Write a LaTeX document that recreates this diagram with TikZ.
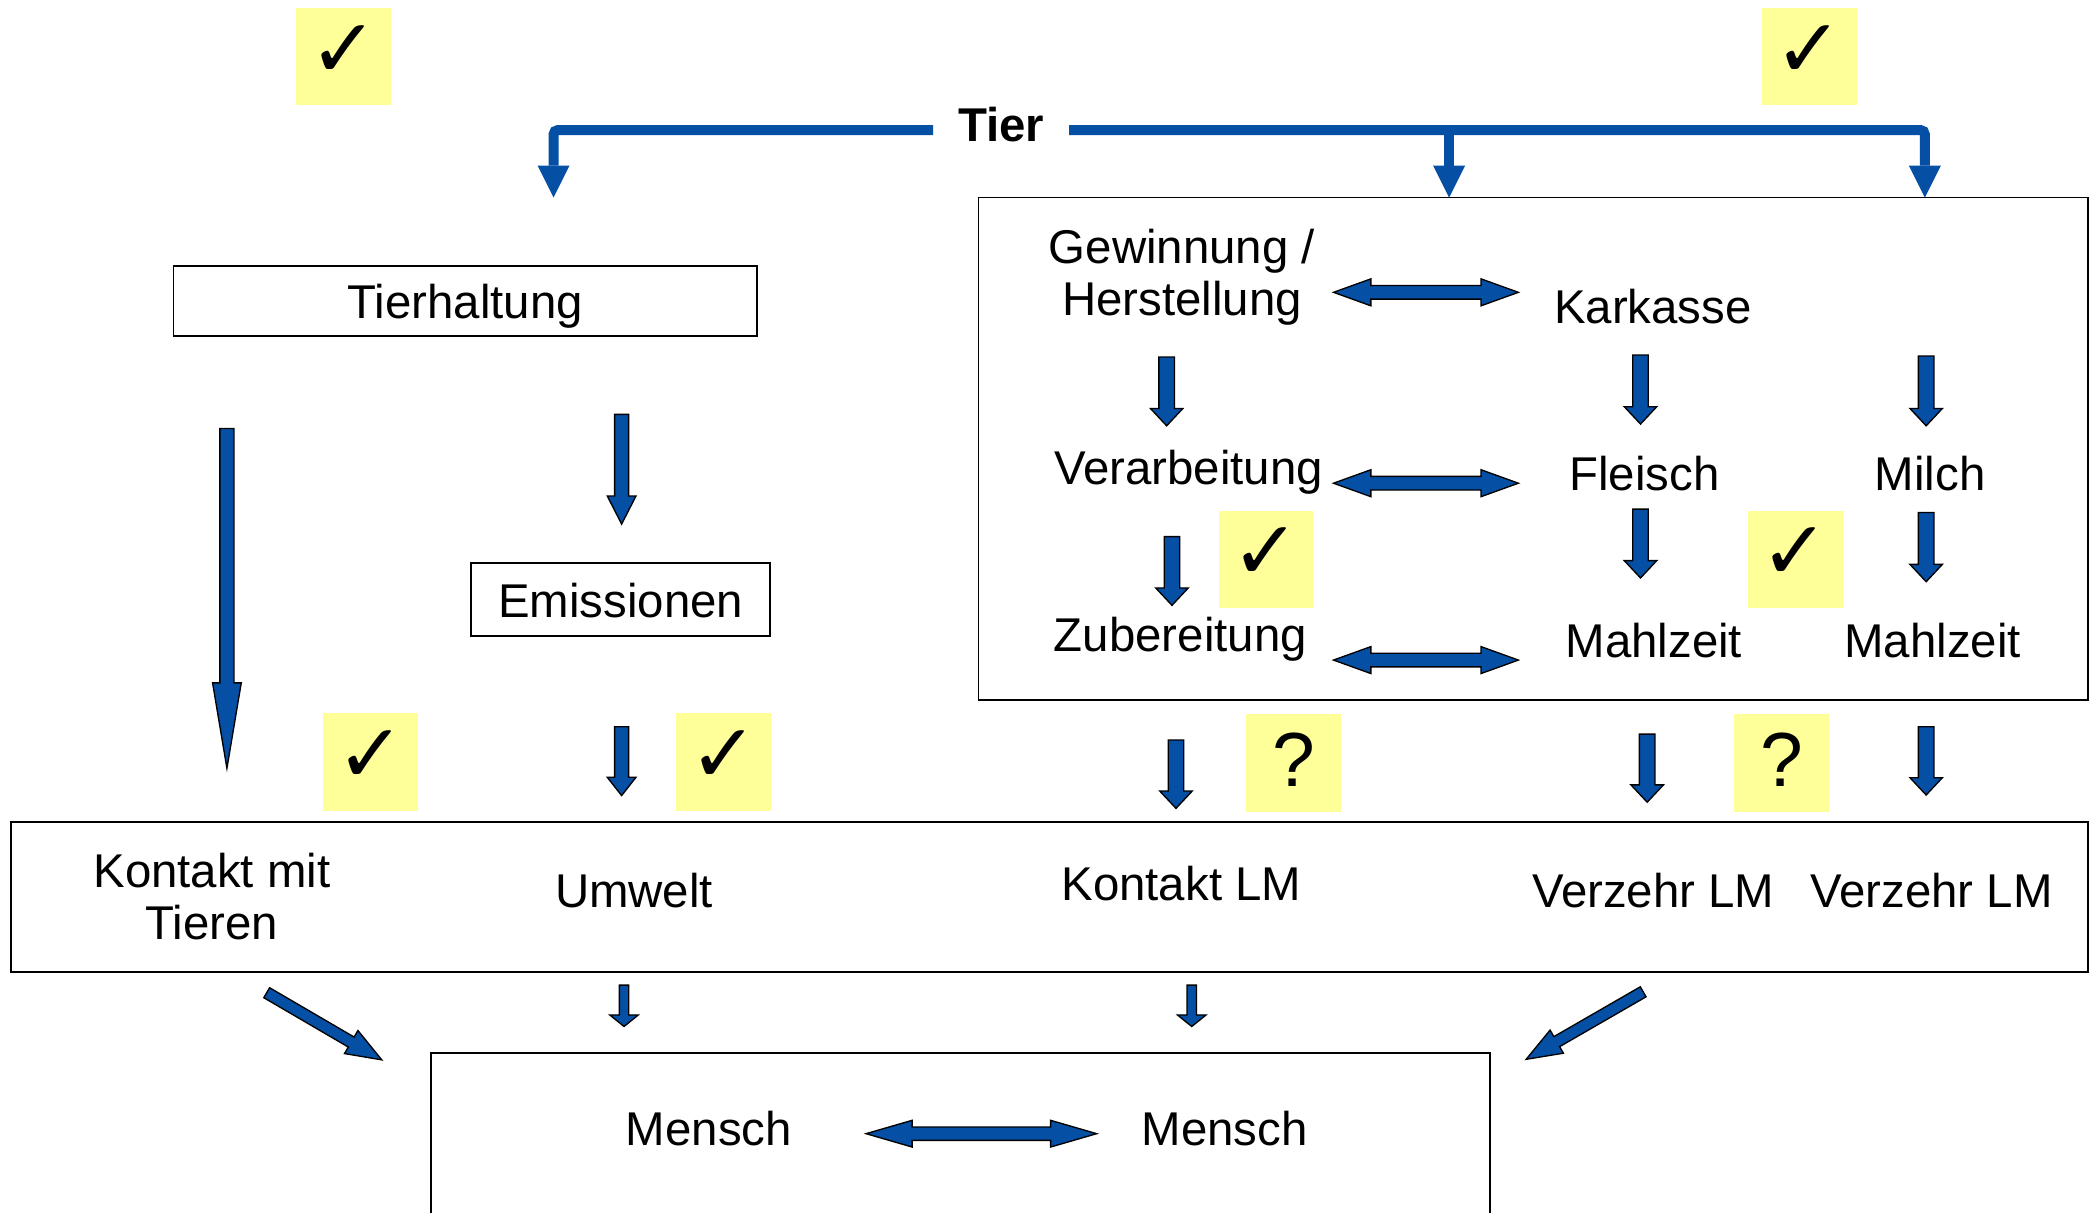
\documentclass[tikz,border=0pt]{standalone}
\usepackage{fontspec}
\setmainfont{Liberation Sans}
\newfontfamily\symfont{DejaVu Sans}
\usetikzlibrary{calc,arrows.meta}
\definecolor{arrowblue}{RGB}{5,80,164}
\definecolor{noteyellow}{RGB}{255,255,153}

% block arrow: #1 from, #2 to, #3 shaft half width, #4 head half width, #5 head length
\newcommand{\blkarrow}[5]{%
  \coordinate (ba-h) at ($(#2)!#5!(#1)$);
  \path[blockarrow] ($(#1)!#3!90:(#2)$) -- ($(ba-h)!#3!-90:(#1)$) -- ($(ba-h)!#4!-90:(#1)$)
    -- (#2) -- ($(ba-h)!#4!90:(#1)$) -- ($(ba-h)!#3!90:(#1)$) -- ($(#1)!#3!-90:(#2)$) -- cycle;
}
% double block arrow
\newcommand{\dblarrow}[5]{%
  \coordinate (da-h1) at ($(#1)!#5!(#2)$);
  \coordinate (da-h2) at ($(#2)!#5!(#1)$);
  \path[blockarrow] (#1) -- ($(da-h1)!#4!90:(#2)$) -- ($(da-h1)!#3!90:(#2)$)
    -- ($(da-h2)!#3!-90:(#1)$) -- ($(da-h2)!#4!-90:(#1)$) -- (#2)
    -- ($(da-h2)!#4!90:(#1)$) -- ($(da-h2)!#3!90:(#1)$)
    -- ($(da-h1)!#3!-90:(#2)$) -- ($(da-h1)!#4!-90:(#2)$) -- cycle;
}

\begin{document}
\begin{tikzpicture}[x=0.6pt,y=-0.6pt,
  lbl/.style={font={\fontsize{21.3}{23.64}\selectfont}, inner sep=0pt},
  lblbase/.style={lbl, anchor=base},
  frame/.style={draw=black, line width=0.8pt, inner sep=0pt},
  textframe/.style={frame, font={\fontsize{21.3}{23.64}\selectfont}, text height=15.8pt, text depth=0pt},
  notebox/.style={fill=noteyellow, minimum width=42.6pt, minimum height=43.8pt, inner sep=0pt},
  checkbox/.style={notebox, font={\symfont\fontsize{37}{38}\selectfont}, text depth=5pt},
  askbox/.style={notebox, font={\fontsize{34.5}{36}\selectfont}, text depth=3pt},
  blockarrow/.style={fill=arrowblue, draw=black, line width=0.6pt, line join=miter},
  tierline/.style={draw=arrowblue, line width=4.5pt, rounded corners=2pt,
    -{Triangle[length=14.4pt,width=14.4pt,line width=0pt]}}
]
\fill[white] (0,0) rectangle (1568,908);
\useasboundingbox (0,0) rectangle (1568,908);

% yellow note boxes
\node[checkbox] (y1) at (257.5,42.5) {✓};
\node[checkbox] (y2) at (1355.5,42.5) {✓};
\node[checkbox] (y3) at (948.5,419) {✓};
\node[checkbox] (y4) at (1345,419) {✓};
\node[checkbox] (y5) at (277.8,571) {✓};
\node[checkbox] (y6) at (542,571) {✓};
\node[askbox] (y7) at (969,571.5) {?};
\node[askbox] (y8) at (1334.7,571.5) {?};

% frames
\node[frame, minimum width=498.6pt, minimum height=225.8pt] (chain) at (1148.5,336.2) {};
\node[frame, minimum width=933.6pt, minimum height=67.2pt] (routes) at (786,672) {};
\begin{scope}
  \clip (0,0) rectangle (1568,908);
  \node[frame, minimum width=476pt, minimum height=102.6pt] (humans) at (719.65,874.5) {};
\end{scope}
\node[textframe, minimum width=262.2pt, minimum height=31.8pt] (tierhaltung) at (348.5,225.5) {Tierhaltung};
\node[textframe, minimum width=134.4pt, minimum height=32.7pt] (emissionen) at (465,449.25) {Emissionen};

% Tier and its branches
\node[lbl, anchor=base, font={\fontsize{21.3}{23.64}\selectfont\bfseries}, inner xsep=11pt] (tier) at (750,106.2) {Tier};
\coordinate (bar) at (750,97.4);
\coordinate (tierL) at (414.7,148);
\coordinate (tierM) at (1085.6,148);
\coordinate (tierR) at (1442,148);
\draw[tierline] (tier.west |- bar) -| (tierL);
\draw[tierline] (tier.east |- bar) -| (tierR);
\draw[tierline] (tierM |- bar) -- (tierM);

% labels in the chain box
\node[lbl, align=center] (gewinnung) at (885.5,207.6) {Gewinnung /\\Herstellung};
\node[lblbase] (karkasse) at (1238.3,242.2) {Karkasse};
\node[lblbase] (verarbeitung) at (890.5,362.9) {Verarbeitung};
\node[lblbase] (fleisch) at (1232,367.6) {Fleisch};
\node[lblbase] (milch) at (1446,367.6) {Milch};
\node[lblbase] (zubereitung) at (884.3,487.7) {Zubereitung};
\node[lblbase] (mahlzeitA) at (1239,492.7) {Mahlzeit};
\node[lblbase] (mahlzeitB) at (1447.8,492.7) {Mahlzeit};

% labels in the routes box
\node[lbl, align=center] (kontakttiere) at (158.8,671.8) {Kontakt mit\\Tieren};
\node[lblbase] (umwelt) at (475,679.8) {Umwelt};
\node[lblbase] (kontaktlm) at (885,674.8) {Kontakt LM};
\node[lblbase] (verzehrA) at (1238.5,679.8) {Verzehr LM};
\node[lblbase] (verzehrB) at (1447,679.8) {Verzehr LM};

% labels in the human box
\node[lblbase] (menschA) at (531,857.8) {Mensch};
\node[lblbase] (menschB) at (917.5,857.8) {Mensch};

% arrow end points
\coordinate (gv1) at (874,267.5);   \coordinate (gv2) at (874,319);
\coordinate (kf1) at (1229,266);    \coordinate (kf2) at (1229,317.7);
\coordinate (mm1) at (1443,266.7);  \coordinate (mm2) at (1443,319);
\coordinate (vz1) at (878,402);     \coordinate (vz2) at (878,453.5);
\coordinate (fm1) at (1229,381.4);  \coordinate (fm2) at (1229,433);
\coordinate (ml1) at (1443,384);    \coordinate (ml2) at (1443,435.8);
\coordinate (kl1) at (881,554.4);   \coordinate (kl2) at (881,605.6);
\coordinate (va1) at (1234,550);    \coordinate (va2) at (1234,601);
\coordinate (vb1) at (1443,544.4);  \coordinate (vb2) at (1443,595.6);
\coordinate (lt1) at (170,321);     \coordinate (lt2) at (170,575.6);
\coordinate (te1) at (465.7,310.4); \coordinate (te2) at (465.7,392.6);
\coordinate (eu1) at (465.7,544.4); \coordinate (eu2) at (465.7,596);
\coordinate (um1) at (467.5,738);   \coordinate (um2) at (467.5,769);
\coordinate (km1) at (892.8,738);   \coordinate (km2) at (892.8,769);
\coordinate (dl1) at (199.8,743.7); \coordinate (dl2) at (286,794);
\coordinate (dr1) at (1231,743);    \coordinate (dr2) at (1143.3,793.6);
\coordinate (gk1) at (999,219);     \coordinate (gk2) at (1137.5,219);
\coordinate (vf1) at (999,362);     \coordinate (vf2) at (1137.5,362);
\coordinate (zm1) at (999,494.5);   \coordinate (zm2) at (1137.5,494.5);
\coordinate (me1) at (648.8,849.3); \coordinate (me2) at (821.6,849.3);

% vertical block arrows
\blkarrow{gv1}{gv2}{3.5pt}{7.3pt}{7.8pt}
\blkarrow{kf1}{kf2}{3.5pt}{7.3pt}{7.8pt}
\blkarrow{mm1}{mm2}{3.5pt}{7.3pt}{7.8pt}
\blkarrow{vz1}{vz2}{3.5pt}{7.3pt}{7.8pt}
\blkarrow{fm1}{fm2}{3.5pt}{7.3pt}{7.8pt}
\blkarrow{ml1}{ml2}{3.5pt}{7.3pt}{7.8pt}
\blkarrow{kl1}{kl2}{3.5pt}{7.3pt}{7.8pt}
\blkarrow{va1}{va2}{3.5pt}{7.3pt}{7.8pt}
\blkarrow{vb1}{vb2}{3.5pt}{7.3pt}{7.8pt}
\blkarrow{lt1}{lt2}{3.15pt}{6.45pt}{38.4pt}
\blkarrow{te1}{te2}{3.15pt}{6.45pt}{12.6pt}
\blkarrow{eu1}{eu2}{3.15pt}{6.45pt}{8.2pt}
\blkarrow{um1}{um2}{2.1pt}{6.45pt}{5.2pt}
\blkarrow{km1}{km2}{2.1pt}{6.45pt}{5.2pt}
\blkarrow{dl1}{dl2}{2.6pt}{6pt}{15.9pt}
\blkarrow{dr1}{dr2}{2.6pt}{6pt}{15.9pt}

% double block arrows
\dblarrow{gk1}{gk2}{3.06pt}{6.06pt}{16.8pt}
\dblarrow{vf1}{vf2}{3.06pt}{6.06pt}{16.8pt}
\dblarrow{zm1}{zm2}{3.06pt}{6.06pt}{16.8pt}
\dblarrow{me1}{me2}{3pt}{6pt}{20.7pt}
\end{tikzpicture}
\end{document}
